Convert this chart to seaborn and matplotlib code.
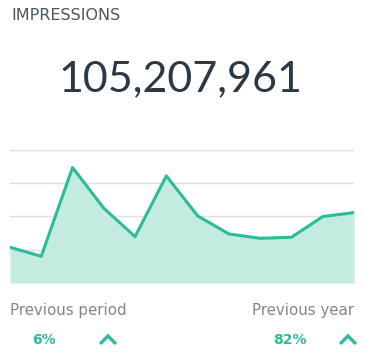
import matplotlib
matplotlib.use("Agg")
import matplotlib.pyplot as plt
from matplotlib.lines import Line2D
import seaborn as sns
import pandas as pd

# Data (millions of impressions per period)
periods = list(range(1, 13))
impressions = [5.35, 4.0, 17.3, 11.2, 6.95, 16.05, 10.05, 7.35, 6.7, 6.85, 9.95, 10.55]
grid_ticks = [5, 10, 15, 20]
total_label = "105,207,961"
prev_period = "6%"
prev_year = "82%"

df = pd.DataFrame({"period": periods, "impressions": impressions})

teal = "#2bbd95"
fill = "#c3ebe0"

sns.set_style("white")
plt.rcParams["font.family"] = ["Lato", "DejaVu Sans"]

fig = plt.figure(figsize=(3.66, 3.64), dpi=100)
ax = fig.add_axes([10 / 366, 81 / 364, 344 / 366, 133.5 / 364])

ax.fill_between(df["period"], df["impressions"], 0, color=fill, linewidth=0, zorder=1)
sns.lineplot(data=df, x="period", y="impressions", color=teal, linewidth=2.2, ax=ax, zorder=3)

ax.set_xlim(periods[0], periods[-1])
ax.set_ylim(0, grid_ticks[-1])
ax.set_yticks(grid_ticks)
ax.set_xticks([])
ax.yaxis.grid(True, color="#e0e0e0", linewidth=1, zorder=0)
ax.set_axisbelow(True)
ax.tick_params(left=False, labelleft=False)
ax.set_xlabel("")
ax.set_ylabel("")
for s in ax.spines.values():
    s.set_visible(False)
ax.patch.set_alpha(0)

# Header texts
fig.text(11 / 366, 1 - 16 / 364, "IMPRESSIONS", fontsize=11.5, color="#4a5560",
         va="center", ha="left", family="DejaVu Sans")
fig.text(180 / 366, 1 - 79 / 364, total_label, fontsize=31, color="#2b3944",
         va="center", ha="center")

# Footer texts
fig.text(10 / 366, 1 - 311 / 364, "Previous period", fontsize=10.8, color="#858585",
         va="center", ha="left", family="DejaVu Sans")
fig.text(354 / 366, 1 - 311 / 364, "Previous year", fontsize=10.8, color="#858585",
         va="center", ha="right", family="DejaVu Sans")
fig.text(44 / 366, 1 - 340 / 364, prev_period, fontsize=10, color=teal,
         va="center", ha="center", fontweight="bold", family="DejaVu Sans")
fig.text(290 / 366, 1 - 340 / 364, prev_year, fontsize=10, color=teal,
         va="center", ha="center", fontweight="bold", family="DejaVu Sans")

# chevron icons
for xc in (108, 348):
    xs = [(xc - 7) / 366, xc / 366, (xc + 7) / 366]
    ys = [1 - 343 / 364, 1 - 336 / 364, 1 - 343 / 364]
    fig.add_artist(Line2D(xs, ys, color=teal, linewidth=2.4,
                          solid_capstyle="round", solid_joinstyle="miter"))

fig.savefig("out.png", dpi=100, facecolor="white")
